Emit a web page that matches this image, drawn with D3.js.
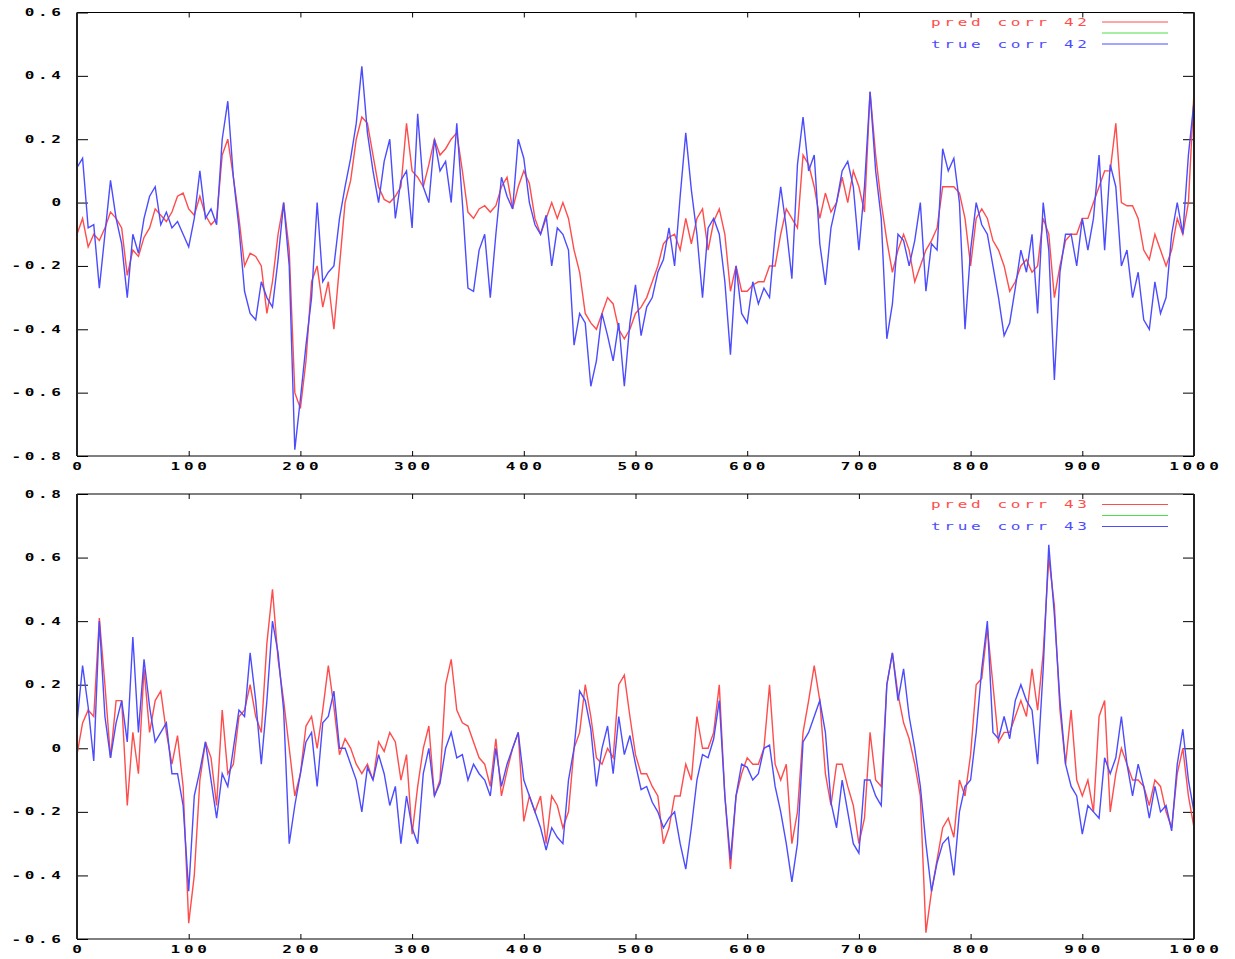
<!DOCTYPE html>
<html>
<head>
<meta charset="utf-8">
<script src="https://cdn.jsdelivr.net/npm/d3@7/dist/d3.min.js"></script>
<style>
  html, body { margin: 0; padding: 0; background: #fff; }
  svg { display: block; }
</style>
</head>
<body>
<svg id="chart" width="1235" height="959"></svg>
<script>
// ---- data (sampled every 5 steps, x = 0..1000) ----
const sampleStep = 5;
const xTickValues = [0, 100, 200, 300, 400, 500, 600, 700, 800, 900, 1000];
const yTicksTop = [-0.8, -0.6, -0.4, -0.2, 0, 0.2, 0.4, 0.6];
const yTicksBottom = [-0.6, -0.4, -0.2, 0, 0.2, 0.4, 0.6, 0.8];
const legendTop = ["pred corr 42", "", "true corr 42"];
const legendBottom = ["pred corr 43", "", "true corr 43"];

const predCorr42 = [
  -0.1, -0.05, -0.14, -0.1, -0.12, -0.08, -0.03, -0.05, -0.08, -0.23,
  -0.15, -0.17, -0.11, -0.08, -0.02, -0.04, -0.06, -0.03, 0.02, 0.03,
  -0.02, -0.04, 0.02, -0.04, -0.07, -0.05, 0.15, 0.2, 0.08, -0.05,
  -0.2, -0.16, -0.17, -0.2, -0.35, -0.25, -0.1, 0.0, -0.15, -0.6,
  -0.65, -0.5, -0.25, -0.2, -0.33, -0.25, -0.4, -0.2, 0.0, 0.07,
  0.2, 0.27, 0.25, 0.15, 0.05, 0.01, 0.0, 0.02, 0.05, 0.25,
  0.1, 0.08, 0.05, 0.12, 0.2, 0.15, 0.17, 0.2, 0.22, 0.1,
  -0.03, -0.05, -0.02, -0.01, -0.03, -0.01, 0.05, 0.08, -0.02, 0.05,
  0.1, 0.06, -0.05, -0.1, -0.05, 0.0, -0.05, 0.0, -0.05, -0.15,
  -0.22, -0.35, -0.38, -0.4, -0.35, -0.3, -0.32, -0.4, -0.43, -0.4,
  -0.35, -0.33, -0.3, -0.25, -0.2, -0.13, -0.11, -0.1, -0.15, -0.05,
  -0.13, -0.05, -0.02, -0.15, -0.06, -0.02, -0.1, -0.28, -0.2, -0.28,
  -0.28, -0.26, -0.25, -0.25, -0.2, -0.2, -0.1, -0.02, -0.05, -0.08,
  0.15, 0.12, 0.05, -0.05, 0.03, -0.03, 0.0, 0.08, 0.0, 0.1,
  0.05, -0.03, 0.35, 0.15, 0.0, -0.12, -0.22, -0.15, -0.1, -0.15,
  -0.25, -0.2, -0.15, -0.12, -0.08, 0.05, 0.05, 0.05, 0.03, -0.05,
  -0.2, -0.05, -0.02, -0.05, -0.12, -0.15, -0.2, -0.28, -0.25, -0.2,
  -0.18, -0.22, -0.2, -0.05, -0.1, -0.3, -0.2, -0.12, -0.1, -0.1,
  -0.05, -0.05, 0.0, 0.05, 0.1, 0.1, 0.25, 0.0, -0.01, -0.01,
  -0.05, -0.15, -0.18, -0.1, -0.15, -0.2, -0.15, -0.05, -0.1, 0.0,
  0.35
];
const trueCorr42 = [
  0.11, 0.14, -0.08, -0.07, -0.27, -0.1, 0.07, -0.05, -0.13, -0.3,
  -0.1, -0.16, -0.05, 0.02, 0.05, -0.07, -0.03, -0.08, -0.06, -0.1,
  -0.14, -0.05, 0.1, -0.05, -0.02, -0.07, 0.2, 0.32, 0.08, -0.08,
  -0.28, -0.35, -0.37, -0.25, -0.3, -0.33, -0.18, 0.0, -0.2, -0.78,
  -0.62, -0.45, -0.3, 0.0, -0.25, -0.22, -0.2, -0.05, 0.05, 0.14,
  0.25, 0.43, 0.22, 0.1, 0.0, 0.13, 0.2, -0.05, 0.07, 0.1,
  -0.08, 0.28, 0.05, 0.0, 0.2, 0.1, 0.13, 0.0, 0.25, 0.0,
  -0.27, -0.28, -0.15, -0.1, -0.3, -0.1, 0.08, 0.02, -0.02, 0.2,
  0.14, 0.0, -0.07, -0.1, -0.04, -0.2, -0.08, -0.1, -0.15, -0.45,
  -0.35, -0.38, -0.58, -0.5, -0.35, -0.42, -0.5, -0.38, -0.58, -0.38,
  -0.26, -0.42, -0.33, -0.3, -0.22, -0.18, -0.08, -0.2, 0.02, 0.22,
  0.04, -0.1, -0.3, -0.08, -0.05, -0.1, -0.25, -0.48, -0.2, -0.35,
  -0.38, -0.25, -0.32, -0.27, -0.3, -0.1, 0.05, -0.08, -0.24, 0.12,
  0.27, 0.1, 0.15, -0.13, -0.26, -0.08, 0.0, 0.1, 0.13, 0.05,
  -0.15, 0.05, 0.35, 0.1, -0.05, -0.43, -0.32, -0.1, -0.12, -0.2,
  -0.12, 0.0, -0.28, -0.13, -0.15, 0.17, 0.1, 0.14, 0.0, -0.4,
  -0.15, 0.0, -0.07, -0.1, -0.2, -0.3, -0.42, -0.38, -0.27, -0.15,
  -0.22, -0.1, -0.35, 0.0, -0.15, -0.56, -0.22, -0.1, -0.1, -0.2,
  -0.05, -0.15, -0.05, 0.15, -0.15, 0.12, 0.05, -0.2, -0.15, -0.3,
  -0.22, -0.37, -0.4, -0.25, -0.35, -0.3, -0.1, 0.0, -0.1, 0.15,
  0.32
];
const predCorr43 = [
  -0.02, 0.08, 0.12, 0.1, 0.41, 0.2, -0.03, 0.15, 0.15, -0.18,
  0.05, -0.08, 0.25, 0.05, 0.15, 0.18, 0.05, -0.05, 0.04, -0.12,
  -0.55, -0.4, -0.1, 0.02, -0.03, -0.18, 0.12, -0.08, -0.05, 0.1,
  0.12, 0.2, 0.1, 0.05, 0.33, 0.5, 0.28, 0.15, 0.0, -0.15,
  -0.08, 0.07, 0.1, 0.0, 0.12, 0.26, 0.13, -0.02, 0.03, 0.0,
  -0.05, -0.08, -0.05, -0.1, 0.02, -0.01, 0.05, 0.02, -0.1, -0.02,
  -0.27, -0.12, 0.0, 0.07, -0.15, -0.1, 0.2, 0.28, 0.12, 0.08,
  0.07, 0.02, -0.03, -0.05, -0.12, 0.03, -0.15, -0.07, 0.0, 0.05,
  -0.23, -0.15, -0.2, -0.15, -0.3, -0.15, -0.18, -0.25, -0.2, 0.0,
  0.05, 0.2, 0.1, -0.03, -0.05, 0.0, -0.03, 0.2, 0.23, 0.1,
  -0.02, -0.08, -0.08, -0.12, -0.15, -0.3, -0.25, -0.15, -0.15, -0.05,
  -0.1, 0.1, 0.0, 0.0, 0.05, 0.2, -0.15, -0.38, -0.15, -0.08,
  -0.03, -0.05, -0.05, 0.0, 0.2, -0.05, -0.1, -0.05, -0.3, -0.2,
  0.05, 0.15, 0.26, 0.15, -0.08, -0.18, -0.05, -0.05, -0.12, -0.18,
  -0.3, -0.22, 0.05, -0.1, -0.12, 0.2, 0.3, 0.17, 0.08, 0.03,
  -0.05, -0.15, -0.58, -0.45, -0.35, -0.25, -0.22, -0.28, -0.1, -0.15,
  -0.02, 0.2, 0.22, 0.38, 0.2, 0.02, 0.05, 0.05, 0.1, 0.15,
  0.1, 0.25, 0.12, 0.3, 0.6, 0.45, 0.12, -0.05, 0.12, -0.1,
  -0.15, -0.1, -0.2, 0.1, 0.15, -0.2, -0.08, 0.0, -0.05, -0.1,
  -0.1, -0.12, -0.18, -0.1, -0.12, -0.2, -0.25, -0.08, 0.0, -0.15,
  -0.25
];
const trueCorr43 = [
  0.08, 0.26, 0.13, -0.04, 0.4, 0.1, -0.03, 0.08, 0.15, 0.02,
  0.35, 0.05, 0.28, 0.13, 0.02, 0.05, 0.08, -0.08, -0.08, -0.18,
  -0.45, -0.15, -0.07, 0.02, -0.1, -0.22, -0.08, -0.12, 0.0, 0.12,
  0.1, 0.3, 0.15, -0.05, 0.15, 0.4, 0.3, 0.12, -0.3, -0.18,
  -0.08, 0.02, 0.05, -0.12, 0.08, 0.1, 0.18, 0.0, 0.0, -0.05,
  -0.1, -0.2, -0.06, -0.1, -0.02, -0.08, -0.18, -0.12, -0.3, -0.15,
  -0.25, -0.3, -0.08, 0.0, -0.15, -0.11, 0.0, 0.05, -0.03, -0.02,
  -0.1, -0.05, -0.08, -0.1, -0.15, 0.0, -0.12, -0.05, 0.0, 0.05,
  -0.1, -0.15, -0.2, -0.25, -0.32, -0.25, -0.28, -0.3, -0.1, 0.0,
  0.18, 0.15, 0.06, -0.12, 0.0, 0.07, -0.08, 0.1, -0.02, 0.04,
  -0.05, -0.13, -0.12, -0.17, -0.2, -0.25, -0.22, -0.2, -0.3, -0.38,
  -0.25, -0.1, -0.02, -0.03, 0.03, 0.15, -0.15, -0.35, -0.15, -0.05,
  -0.06, -0.1, -0.08, 0.0, 0.01, -0.12, -0.2, -0.3, -0.42, -0.3,
  0.02, 0.05, 0.1, 0.15, 0.05, -0.17, -0.25, -0.1, -0.2, -0.3,
  -0.33, -0.1, -0.1, -0.15, -0.18, 0.2, 0.3, 0.15, 0.25, 0.1,
  0.0, -0.12, -0.3, -0.45, -0.36, -0.3, -0.28, -0.4, -0.2, -0.12,
  -0.1, 0.05, 0.25, 0.4, 0.05, 0.03, 0.1, 0.03, 0.15, 0.2,
  0.15, 0.12, -0.05, 0.25, 0.64, 0.42, 0.15, -0.05, -0.12, -0.15,
  -0.27, -0.18, -0.2, -0.22, -0.03, -0.08, -0.03, 0.1, -0.05, -0.15,
  -0.05, -0.12, -0.22, -0.12, -0.2, -0.18, -0.26, -0.05, 0.06, -0.1,
  -0.2
];

// ---- styles ----
const RED = "#ff4c4c", GREEN = "#4ce04c", BLUE = "#4c4cff";
const svg = d3.select("#chart");

const x = d3.scaleLinear().domain([0, 1000]).range([77, 1194]);

function label(g, px, py, s, anchor, color, weight) {
  const sx = 1.6, ls = 2.3;
  const dx = anchor === "end" ? ls * sx : anchor === "middle" ? ls * sx / 2 : 0;
  g.append("text")
    .attr("transform", `translate(${px + dx},${py}) scale(${sx},1)`)
    .attr("text-anchor", anchor)
    .attr("dy", "0.35em")
    .attr("letter-spacing", ls)
    .attr("font-family", "'DejaVu Sans Mono', monospace")
    .attr("font-size", 10)
    .attr("font-weight", weight)
    .attr("fill", color)
    .text(s);
}

const fmt = d => d === 0 ? "0" : d.toFixed(1);

function panel(cfg) {
  const g = svg.append("g");
  const y = d3.scaleLinear().domain(cfg.yDomain).range([cfg.bottom, cfg.top]);
  const x0 = x.range()[0], x1 = x.range()[1];

  // ticks (inward, mirrored on all sides)
  const tickStyle = sel => { sel.select(".domain").remove(); sel.selectAll("line").attr("stroke", "#000"); sel.selectAll("text").remove(); };
  g.append("g").attr("transform", `translate(${x0},0)`)
    .call(d3.axisLeft(y).tickValues(cfg.yTicks).tickSize(-11).tickFormat("")).call(tickStyle);
  g.append("g").attr("transform", `translate(${x1},0)`)
    .call(d3.axisRight(y).tickValues(cfg.yTicks).tickSize(-11).tickFormat("")).call(tickStyle);
  g.append("g").attr("transform", `translate(0,${cfg.bottom})`)
    .call(d3.axisBottom(x).tickValues(xTickValues).tickSize(-5).tickFormat("")).call(tickStyle);
  g.append("g").attr("transform", `translate(0,${cfg.top})`)
    .call(d3.axisTop(x).tickValues(xTickValues).tickSize(-5).tickFormat("")).call(tickStyle);

  // labels
  cfg.yTicks.forEach(v => label(g, 61, y(v), fmt(v), "end", "#000", "bold"));
  xTickValues.forEach(v => label(g, x(v), cfg.bottom + 10, String(v), "middle", "#000", "bold"));

  // series
  const line = d3.line().x((d, i) => x(i * sampleStep)).y(d => y(d)).curve(d3.curveLinear);
  g.append("path").datum(cfg.red).attr("d", line)
    .attr("fill", "none").attr("stroke", RED).attr("stroke-width", 1.4);
  g.append("path").datum(cfg.blue).attr("d", line)
    .attr("fill", "none").attr("stroke", BLUE).attr("stroke-width", 1.4);

  // frame
  g.append("line").attr("x1", x0).attr("x2", x1).attr("y1", cfg.top).attr("y2", cfg.top).attr("stroke", "#000");
  g.append("line").attr("x1", x0).attr("x2", x1).attr("y1", cfg.bottom).attr("y2", cfg.bottom).attr("stroke", "#000");
  g.append("line").attr("x1", x0).attr("x2", x0).attr("y1", cfg.top).attr("y2", cfg.bottom).attr("stroke", "#222").attr("stroke-width", 2);
  g.append("line").attr("x1", x1).attr("x2", x1).attr("y1", cfg.top).attr("y2", cfg.bottom).attr("stroke", "#222").attr("stroke-width", 2);

  // legend
  const colors = [RED, GREEN, BLUE];
  cfg.legend.forEach((t, i) => {
    const ly = cfg.legendY + i * 11;
    if (t) label(g, 1087, ly, t, "end", colors[i], "normal");
    g.append("line").attr("x1", 1102).attr("x2", 1168).attr("y1", ly).attr("y2", ly)
      .attr("stroke", colors[i]).attr("stroke-width", 1);
  });
}

panel({ top: 12.5, bottom: 456, yDomain: [-0.8, 0.6], yTicks: yTicksTop,
        red: predCorr42, blue: trueCorr42, legend: legendTop, legendY: 22 });
panel({ top: 494, bottom: 939, yDomain: [-0.6, 0.8], yTicks: yTicksBottom,
        red: predCorr43, blue: trueCorr43, legend: legendBottom, legendY: 504.5 });
</script>
</body>
</html>
